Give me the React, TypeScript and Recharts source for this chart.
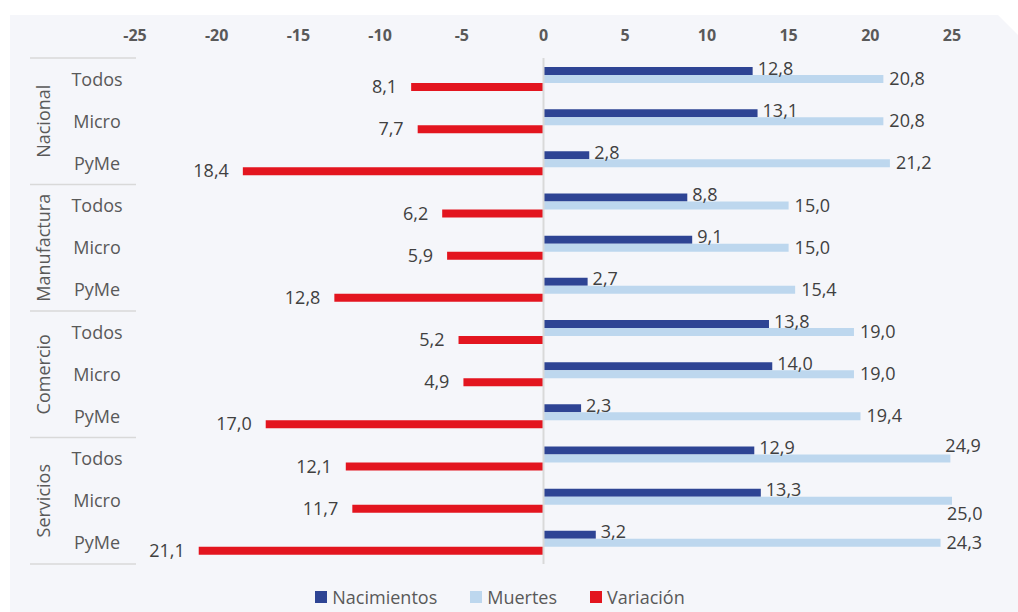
import React from 'react';
import { BarChart, Bar, XAxis, YAxis, Legend, LabelList, ReferenceLine } from 'recharts';

const groups = ['Nacional', 'Manufactura', 'Comercio', 'Servicios'];
const sizes = ['Todos', 'Micro', 'PyMe'];
const nacimientos = [12.8, 13.1, 2.8, 8.8, 9.1, 2.7, 13.8, 14.0, 2.3, 12.9, 13.3, 3.2];
const muertes = [20.8, 20.8, 21.2, 15.0, 15.0, 15.4, 19.0, 19.0, 19.4, 24.9, 25.0, 24.3];
const variacion = [-8.1, -7.7, -18.4, -6.2, -5.9, -12.8, -5.2, -4.9, -17.0, -12.1, -11.7, -21.1];
const xTicks = [-25, -20, -15, -10, -5, 0, 5, 10, 15, 20, 25];
const seriesNames = ['Nacimientos', 'Muertes', 'Variación'];

const COLORS = ['#2E4494', '#BDD7EE', '#E3151F'];
const FONT = '"Open Sans", "Noto Sans", sans-serif';
const W = 1018;
const H = 612;
const TOP = 58;
const BOTTOM_OFF = 48;
const LEFT = 135;
const RIGHT = 66;

const data = groups.flatMap((g, gi) =>
  sizes.map((s, si) => {
    const i = gi * sizes.length + si;
    return {
      key: `${g}|${s}`,
      group: g,
      size: s,
      nacimientos: nacimientos[i],
      muertes: muertes[i],
      variacion: variacion[i],
    };
  })
);

const BAND = (H - TOP - BOTTOM_OFF) / data.length;
const fmt = (v: number) => Math.abs(v).toFixed(1).replace('.', ',');
const labelText = { fontFamily: FONT, fontSize: 18, fill: '#404040' } as const;

const XTick = (p: any) => (
  <text x={p.x} y={41} textAnchor="middle" fontFamily={FONT} fontWeight={700} fontSize={16} fill="#595959">
    {p.payload.value}
  </text>
);

const YTick = (p: any) => {
  const i = p.index;
  const row = data[i];
  if (!row) return null;
  const y = p.y;
  const half = BAND / 2;
  return (
    <g>
      <text x={97} y={y + 6.5} textAnchor="middle" fontFamily={FONT} fontSize={18} fill="#595959">
        {row.size}
      </text>
      {i % 3 === 1 && (
        <text
          transform={`translate(50, ${y}) rotate(-90)`}
          textAnchor="middle"
          fontFamily={FONT}
          fontSize={18}
          fill="#595959"
        >
          {row.group}
        </text>
      )}
      {i % 3 === 0 && <line x1={30} x2={136} y1={y - half} y2={y - half} stroke="#D9D9D9" strokeWidth={1.6} />}
      {i === data.length - 1 && (
        <line x1={30} x2={136} y1={y + half} y2={y + half} stroke="#D9D9D9" strokeWidth={1.6} />
      )}
    </g>
  );
};

const NacLabel = (p: any) => {
  const right = Math.max(p.x, p.x + p.width);
  const cy = p.y + p.height / 2;
  return (
    <text x={right + 5} y={cy + 3.6} {...labelText}>
      {fmt(p.value)}
    </text>
  );
};

const MuertesLabel = (p: any) => {
  const right = Math.max(p.x, p.x + p.width);
  const top = p.y;
  const bottom = p.y + p.height;
  const cy = p.y + p.height / 2;
  const row = data[p.index];
  if (right + 45 > W - 30) {
    const below = row && row.size === 'Micro';
    return (
      <text x={right - 5} y={below ? bottom + 15 : top - 2.5} {...labelText}>
        {fmt(p.value)}
      </text>
    );
  }
  return (
    <text x={right + 6} y={cy + 6} {...labelText}>
      {fmt(p.value)}
    </text>
  );
};

const VarLabel = (p: any) => {
  const left = Math.min(p.x, p.x + p.width);
  const cy = p.y + p.height / 2;
  return (
    <text x={left - 14} y={cy + 6} textAnchor="end" {...labelText}>
      {fmt(p.value)}
    </text>
  );
};

const LegendContent = () => (
  <div
    style={{
      height: 45,
      display: 'flex',
      alignItems: 'flex-end',
      justifyContent: 'center',
      paddingRight: 18,
      boxSizing: 'border-box',
      fontFamily: FONT,
      fontSize: 18,
      color: '#595959',
    }}
  >
    {seriesNames.map((n, i) => (
      <div key={n} style={{ display: 'flex', alignItems: 'center', height: 24, marginLeft: i === 0 ? 0 : 33 }}>
        <span style={{ width: 12, height: 12, background: COLORS[i], display: 'inline-block', marginRight: 5 }} />
        <span style={{ lineHeight: '24px' }}>{n}</span>
      </div>
    ))}
  </div>
);

export default function App() {
  return (
    <div style={{ position: 'absolute', left: 0, top: 0, width: W, height: H, background: '#FFFFFF' }}>
      <div
        style={{
          position: 'absolute',
          left: 10,
          top: 15,
          width: W - 10,
          height: H - 15,
          background: '#F5F6FA',
          clipPath: 'polygon(0 0, 988px 0, 100% 20px, 100% 100%, 0 100%)',
        }}
      />
      <div style={{ position: 'absolute', left: 0, top: 0 }}>
        <BarChart
          width={W}
          height={H}
          data={data}
          layout="vertical"
          margin={{ top: 0, right: RIGHT, bottom: 3, left: 0 }}
          barGap={0}
          barSize={8}
        >
          <XAxis
            type="number"
            orientation="top"
            domain={[-25, 25]}
            ticks={xTicks}
            height={TOP}
            axisLine={false}
            tickLine={false}
            tick={<XTick />}
            interval={0}
          />
          <YAxis
            type="category"
            dataKey="key"
            width={LEFT}
            axisLine={false}
            tickLine={false}
            tick={<YTick />}
            interval={0}
          />
          <Legend
            verticalAlign="bottom"
            align="center"
            wrapperStyle={{ left: 0, width: W }}
            content={<LegendContent />}
          />
          <Bar dataKey="nacimientos" name={seriesNames[0]} fill={COLORS[0]} isAnimationActive={false}>
            <LabelList dataKey="nacimientos" content={<NacLabel />} />
          </Bar>
          <Bar dataKey="muertes" name={seriesNames[1]} fill={COLORS[1]} isAnimationActive={false}>
            <LabelList dataKey="muertes" content={<MuertesLabel />} />
          </Bar>
          <Bar dataKey="variacion" name={seriesNames[2]} fill={COLORS[2]} isAnimationActive={false}>
            <LabelList dataKey="variacion" content={<VarLabel />} />
          </Bar>
          <ReferenceLine x={0} stroke="#D9D9D9" strokeWidth={2} />
        </BarChart>
      </div>
    </div>
  );
}
